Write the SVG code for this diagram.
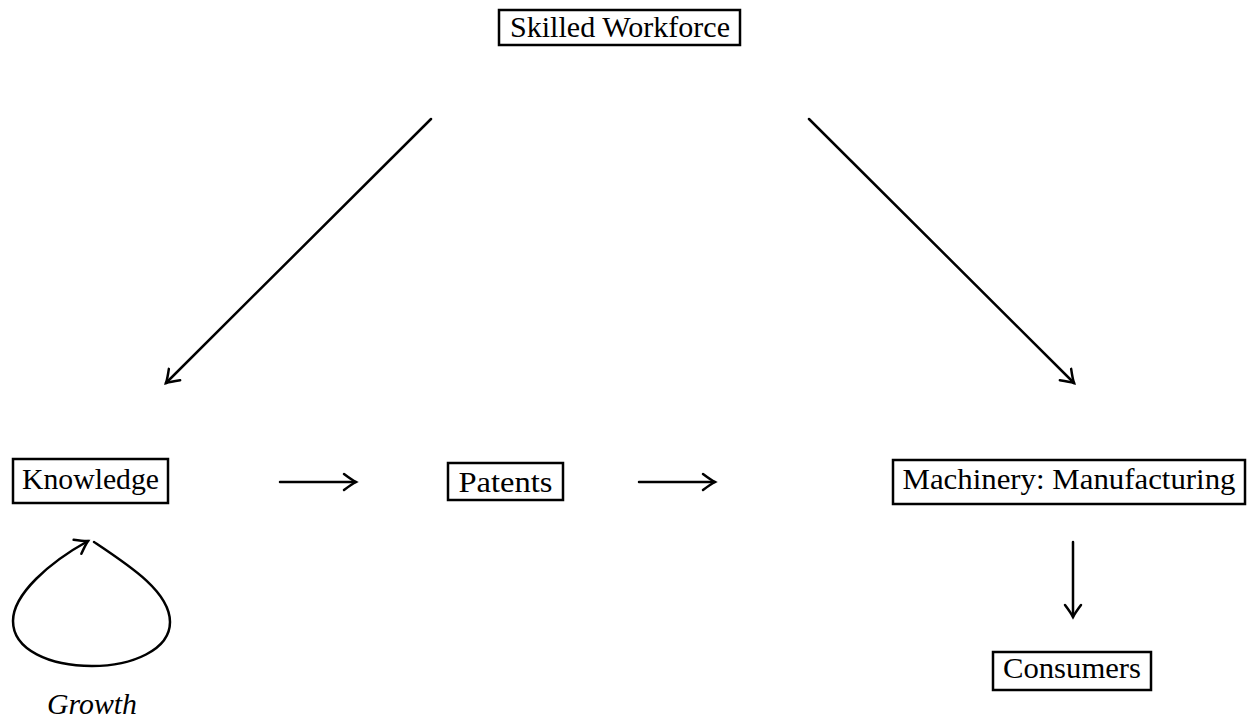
<svg xmlns="http://www.w3.org/2000/svg" width="1257" height="725" viewBox="0 0 1257 725">
<style>
.box{fill:#fff;stroke:#000;stroke-width:2.5}
.lbl{font-family:"Liberation Serif","Times New Roman",serif;font-size:28.5px;fill:#000;text-anchor:middle}
.it{font-style:italic}
.edge{fill:none;stroke:#000;stroke-width:2.5;stroke-linecap:round}
</style>
<defs>
<marker id="arr" viewBox="-14 -10 18 20" refX="0" refY="0" markerWidth="18" markerHeight="20" markerUnits="userSpaceOnUse" orient="auto">
<path d="M-12,-8 Q-4,-2 0,0 Q-4,2 -12,8" fill="none" stroke="#000" stroke-width="2.5" stroke-linecap="round"/>
</marker>
</defs>
<g id="connectors">
<line class="edge" x1="431" y1="119" x2="166" y2="383" marker-end="url(#arr)"/>
<line class="edge" x1="809" y1="119" x2="1074" y2="383" marker-end="url(#arr)"/>
<line class="edge" x1="280" y1="482" x2="356" y2="482" marker-end="url(#arr)"/>
<line class="edge" x1="639" y1="482" x2="715" y2="482" marker-end="url(#arr)"/>
<line class="edge" x1="1073" y1="542" x2="1073" y2="617" marker-end="url(#arr)"/>
<path class="edge" d="M94,542 C130,566 170,592 170,622 C170,650 132,666 92,666 C50,666 13,650 13,621 C13,594 50,562 88,541" marker-end="url(#arr)"/>
</g>
<g id="skilled">
<rect class="box" x="499" y="10" width="241" height="35"/>
<text class="lbl" x="620" y="37" textLength="220" lengthAdjust="spacingAndGlyphs">Skilled Workforce</text>
</g>
<g id="knowledge">
<rect class="box" x="13" y="459" width="155" height="44"/>
<text class="lbl" x="90.5" y="489" textLength="137" lengthAdjust="spacingAndGlyphs">Knowledge</text>
</g>
<g id="patents">
<rect class="box" x="448" y="463" width="115" height="37"/>
<text class="lbl" x="505.5" y="492" textLength="94" lengthAdjust="spacingAndGlyphs">Patents</text>
</g>
<g id="machinery">
<rect class="box" x="893" y="460" width="352" height="44"/>
<text class="lbl" x="1069" y="489" textLength="333" lengthAdjust="spacingAndGlyphs">Machinery: Manufacturing</text>
</g>
<g id="consumers">
<rect class="box" x="993" y="652" width="158" height="38"/>
<text class="lbl" x="1072" y="678" textLength="138" lengthAdjust="spacingAndGlyphs">Consumers</text>
</g>
<g id="growth">
<text class="lbl it" x="92" y="714" textLength="90" lengthAdjust="spacingAndGlyphs">Growth</text>
</g>
</svg>
